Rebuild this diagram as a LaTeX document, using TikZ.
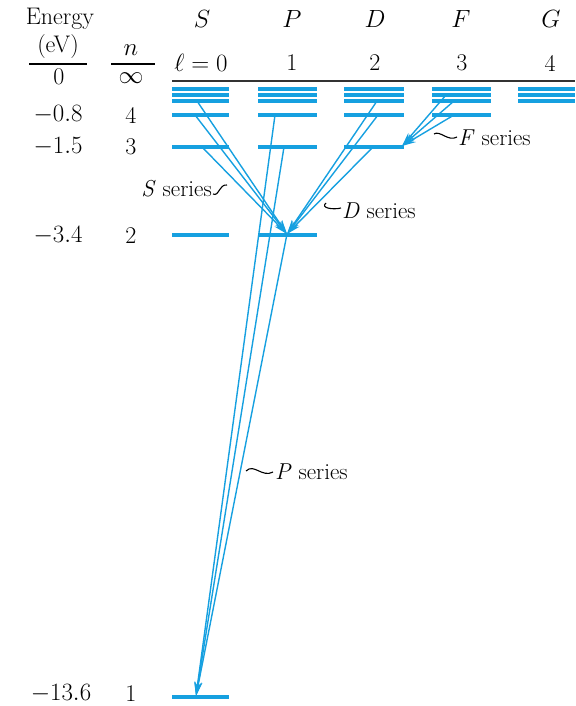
\documentclass[tikz,border=0pt]{standalone}
\usetikzlibrary{arrows.meta}
\definecolor{lvl}{RGB}{22,160,224}
\begin{document}
\begin{tikzpicture}[x=1pt,y=-1pt,
  lev/.style={lvl,line width=3.2pt},
  tr/.style={lvl,line width=1.4pt,-{Stealth[length=14pt,width=7.5pt]}},
  txt/.style={font=\fontsize{24}{28}\selectfont, inner sep=0pt},
  lab/.style={font=\fontsize{23}{27}\selectfont, inner sep=0pt, anchor=west},
  sq/.style={black,line width=1.1pt}]
\useasboundingbox (0,0) rectangle (575,706);
% column headings
\node[txt] (hE) at (60,19) {Energy};
\node[txt] (hEV) at (58,47) {(eV)};
\draw[line width=1.1pt] (29,64) -- (87,64);
\node[txt] (hn) at (131,50) {$n$};
\draw[line width=1.1pt] (111,64) -- (155,64);
\node[txt] (hS) at (202,19) {$S$};
\node[txt] (hP) at (292,19) {$P$};
\node[txt] (hD) at (375,19) {$D$};
\node[txt] (hF) at (461,19) {$F$};
\node[txt] (hG) at (551,19) {$G$};
\node[txt] (l0) at (201,63) {$\ell = 0$};
\node[txt] (l1) at (292,63) {1};
\node[txt] (l2) at (375,63) {2};
\node[txt] (l3) at (462,63) {3};
\node[txt] (l4) at (550,63) {4};
% energy and n values
\node[txt] (e0) at (59,77) {0};
\node[txt] (e4) at (58,115) {$-0.8$};
\node[txt] (e3) at (58,147) {$-1.5$};
\node[txt] (e2) at (58,236) {$-3.4$};
\node[txt] (e1) at (61,694) {$-13.6$};
\node[txt] (ninf) at (131,78) {$\infty$};
\node[txt] (n4) at (131,115) {4};
\node[txt] (n3) at (131,147) {3};
\node[txt] (n2) at (131,236) {2};
\node[txt] (n1) at (131,694) {1};
% zero-energy line
\draw[line width=1.6pt,black!80] (172,81) -- (575,81);
% levels
\foreach \y in {89,95,101,115,147,235,697} \draw[lev] (172,\y) -- (229,\y);
\foreach \y in {89,95,101,115,147,235} \draw[lev] (258,\y) -- (317,\y);
\foreach \y in {89,95,101,115,147} \draw[lev] (344,\y) -- (404,\y);
\foreach \y in {89,95,101,115} \draw[lev] (432,\y) -- (491,\y);
\foreach \y in {89,95,101} \draw[lev] (518,\y) -- (575,\y);
% transition end points
\coordinate (s5) at (197,101);
\coordinate (s4) at (195,115);
\coordinate (s3) at (202,147);
\coordinate (d5) at (377,101);
\coordinate (d4) at (378,115);
\coordinate (d3) at (373,147);
\coordinate (f6) at (446,95);
\coordinate (f5) at (454,101);
\coordinate (f4) at (454,115);
\coordinate (p4) at (275,115);
\coordinate (p3) at (284,147);
\coordinate (p2) at (287,234);
\coordinate (d3t) at (402,146);
\coordinate (s1) at (196,696);
% S series
\foreach \a in {s5,s4,s3} \draw[tr] (\a) -- (p2);
% D series
\foreach \a in {d5,d4,d3} \draw[tr] (\a) -- (p2);
% F series
\foreach \a in {f6,f5,f4} \draw[tr] (\a) -- (d3t);
% P series
\foreach \a in {p4,p3,p2} \draw[tr] (\a) -- (s1);
% series labels
\node[lab,anchor=east] (Sl) at (212,189) {\textit{S} series};
\draw[sq] (213,194) .. controls (219,197) and (219,184) .. (227,185);
\node[lab] (Dl) at (342,211) {\textit{D} series};
\draw[sq] (326,203) .. controls (320,208) and (333,210) .. (341,208);
\node[lab] (Fl) at (458,138) {\textit{F} series};
\draw[sq] (434,134) .. controls (440,130) and (448,142) .. (457,137);
\node[lab] (Pl) at (275,472) {\textit{P} series};
\draw[sq] (246,471) .. controls (254,463) and (262,478) .. (273,472);
\end{tikzpicture}
\end{document}
